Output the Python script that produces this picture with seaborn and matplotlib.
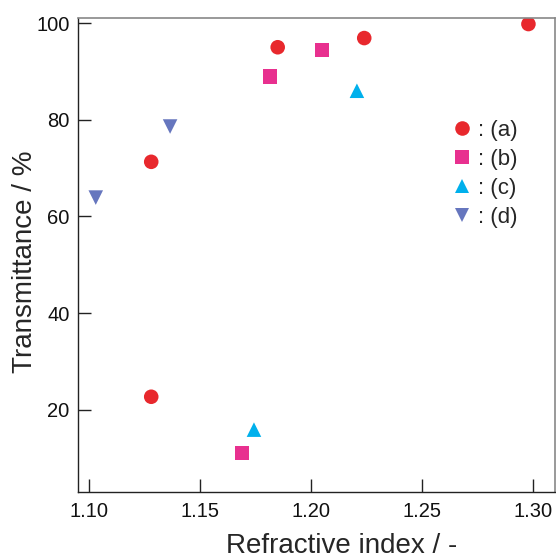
import pandas as pd
import numpy as np
import matplotlib.pyplot as plt
import seaborn as sns

# values
a_x = [1.128, 1.128, 1.185, 1.224, 1.298]
a_y = [71.3, 22.7, 95.0, 96.9, 99.8]
b_x = [1.1815, 1.205, 1.169]
b_y = [88.9, 94.4, 11.1]
c_x = [1.2207, 1.1743]
c_y = [86.0, 15.9]
d_x = [1.103, 1.1365]
d_y = [63.9, 78.6]

labels = [": (a)", ": (b)", ": (c)", ": (d)"]
colors = ["#E8282D", "#E8308F", "#00B0EC", "#6676BE"]
markers = ["o", "s", "^", "v"]

df = pd.concat([
    pd.DataFrame({"x": a_x, "y": a_y, "sample": labels[0]}),
    pd.DataFrame({"x": b_x, "y": b_y, "sample": labels[1]}),
    pd.DataFrame({"x": c_x, "y": c_y, "sample": labels[2]}),
    pd.DataFrame({"x": d_x, "y": d_y, "sample": labels[3]}),
])

sns.set_style("ticks")
plt.rcParams['font.family'] = ['Liberation Sans', 'DejaVu Sans']

fig = plt.figure(figsize=(5.56, 5.58), dpi=100)
ax = fig.add_axes([0.1403, 0.1183, 0.858, 0.849])

sns.scatterplot(data=df, x="x", y="y", hue="sample", style="sample",
                palette=dict(zip(labels, colors)),
                markers=dict(zip(labels, markers)),
                s=110, linewidth=0, ax=ax)

ax.set_xlim(1.095, 1.31)
ax.set_ylim(3, 101)
ax.set_xticks([1.10, 1.15, 1.20, 1.25, 1.30])
ax.set_xticklabels(["1.10", "1.15", "1.20", "1.25", "1.30"])
ax.set_yticks([20, 40, 60, 80, 100])
ax.tick_params(direction="in", length=9.5, width=1, labelsize=14.5,
               colors="#222222", labelcolor="#111111")
ax.tick_params(axis="x", pad=7)
ax.tick_params(axis="y", pad=6)

for side in ["left", "bottom"]:
    ax.spines[side].set_color("#222222")
    ax.spines[side].set_linewidth(1.0)
for side in ["top", "right"]:
    ax.spines[side].set_visible(True)
    ax.spines[side].set_color("#888888")
    ax.spines[side].set_linewidth(1.2)

ax.set_xlabel("Refractive index / -", fontsize=20, labelpad=9)
ax.set_ylabel("Transmittance / %", fontsize=20, labelpad=-1)
ax.xaxis.label.set_x(0.552)
ax.yaxis.label.set_y(0.485)

leg = ax.legend(loc="upper left", bbox_to_anchor=(0.736, 0.827), frameon=False,
                fontsize=16, handlelength=1.2, handletextpad=0.1,
                labelspacing=0.35, markerscale=1.0)

plt.savefig("out.png", dpi=100)
plt.close()
